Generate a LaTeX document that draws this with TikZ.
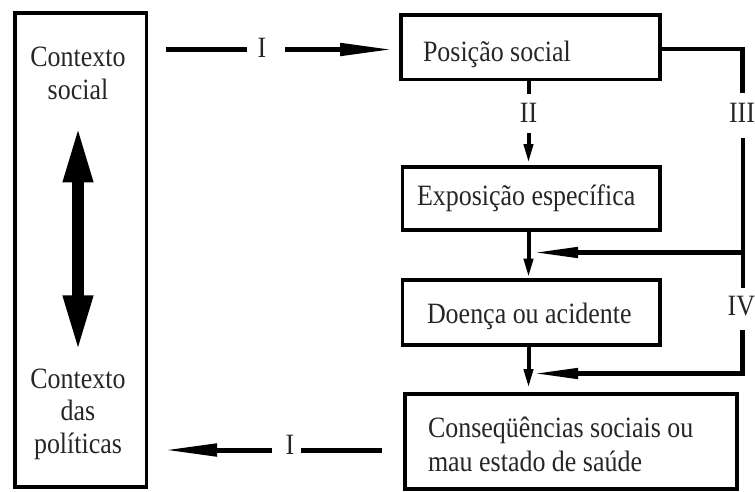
\documentclass[tikz,border=0pt]{standalone}
\usepackage{fontspec}
\setmainfont{Liberation Serif}[FakeStretch=0.88]
\usetikzlibrary{arrows.meta}
\begin{document}
\begin{tikzpicture}[x=1pt,y=-1pt,
  box/.style={draw, rectangle, line width=3.8pt, inner sep=0pt, outer sep=0pt},
  txt/.style={font=\fontsize{29.5}{32.5}\selectfont, inner sep=0pt, outer sep=0pt, text=black!85},
  lbl/.style={txt},
  hline/.style={line width=5pt},
  vline/.style={line width=4pt},
  bigarrow/.style={line width=5pt, -{Triangle[length=53pt,width=12pt]}},
  sidearrow/.style={line width=4.5pt, -{Triangle[length=45pt,width=10pt]}},
  downarrow/.style={line width=4pt, -{Triangle[length=19pt,width=9pt]}},
  dblarrow/.style={line width=12pt, {Triangle[length=57pt,width=27pt]}-{Triangle[length=57pt,width=27pt]}}
]
\useasboundingbox (0,0) rectangle (755,491);

% boxes
\node[box, line width=3.5pt, minimum width=131.5pt, minimum height=474pt] (left) at (80.75,250) {};
\node[box, minimum width=259pt, minimum height=64.5pt] (pos) at (530.5,47.25) {};
\node[box, minimum width=257.5pt, minimum height=63pt] (expo) at (531.25,198.5) {};
\node[box, minimum width=257.5pt, minimum height=65pt] (doenca) at (531.25,312.5) {};
\node[box, minimum width=332pt, minimum height=95pt] (cons) at (571,441.5) {};

% texts (base anchor of a multi-line node = baseline of its last line)
\node[txt, anchor=base, align=center] (ts) at (78,99) {Contexto\\social};
\node[txt, anchor=base, align=center] (tp) at (78,453) {Contexto\\das\\políticas};
\node[txt, anchor=base west] (tpos) at (423,61) {Posição social};
\node[txt, anchor=base west] (texpo) at (417,205) {Exposição específica};
\node[txt, anchor=base west] (tdoenca) at (427,323) {Doença ou acidente};
\node[txt, anchor=base west, align=left, font=\fontsize{29.5}{34}\selectfont] (tcons) at (428,471) {Conseqüências sociais ou\\mau estado de saúde};

% labels
\node[lbl, anchor=base] (i1) at (262,57) {I};
\node[lbl, anchor=base] (i2) at (290,454) {I};
\node[lbl, anchor=base] (ii) at (528.5,122) {II};
\node[lbl, anchor=base east] (iii) at (755,122) {III};
\node[lbl, anchor=base east] (iv) at (755,315) {IV};

% helper coordinates
\coordinate (vx) at (528.5,0);
\coordinate (vr) at (742.5,0);
\coordinate (i1a) at (166,49.5);
\coordinate (b1) at (742.5,252.5);
\coordinate (b2) at (528.5,373.5);

% double arrow in left box
\draw[dblarrow, shorten <=26pt, shorten >=16pt] (ts.south) -- (tp.north);

% I (top)
\draw[hline, shorten >=11pt] (i1a) -- (i1.west |- i1a);
\draw[bigarrow, shorten <=19pt, shorten >=8pt] (i1.east |- i1a) -- (pos.west |- i1a);

% I (bottom)
\draw[hline, shorten <=23pt, shorten >=6.5pt] (cons.west |- 0,450) -- (i2.east |- 0,450);
\draw[bigarrow, shorten <=13.5pt, shorten >=17.5pt] (i2.west |- 0,450) -- (left.east |- 0,450);

% II
\draw[vline, shorten >=9pt] (pos.south -| vx) -- (ii.north -| vx);
\draw[downarrow, shorten <=11pt, shorten >=4pt] (ii.south -| vx) -- (expo.north -| vx);

% main chain
\draw[downarrow, shorten >=2.5pt] (expo.south -| vx) -- (doenca.north -| vx);
\draw[downarrow, shorten >=6pt] (doenca.south -| vx) -- (cons.north -| vx);

% III / IV
\draw[line width=4.5pt, line join=miter, shorten >=10pt] (pos.east |- 0,49) -| (iii.north -| vr);
\draw[vline, shorten <=16pt, shorten >=8pt] (iii.south -| vr) -- (iv.north -| vr);
\draw[sidearrow, shorten >=4.5pt] (b1) -- (b1 -| vx);
\draw[sidearrow, line join=miter, shorten <=15pt, shorten >=4.5pt] (iv.south -| vr) |- (b2);
\end{tikzpicture}
\end{document}
